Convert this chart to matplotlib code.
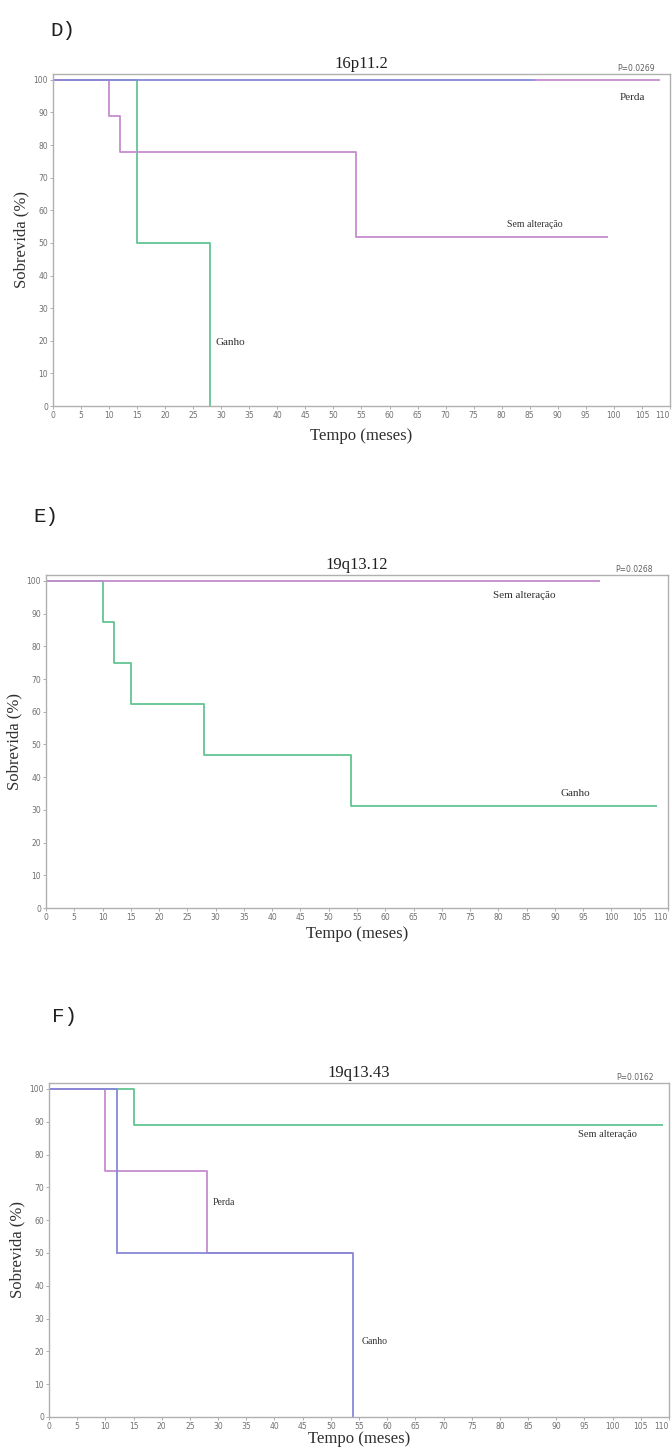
import matplotlib
matplotlib.use("Agg")
import matplotlib.pyplot as plt

# --- Data ---
# D) 16p11.2
d_perda_t = [0, 86, 108]
d_perda_s = [100, 100, 100]
d_sem_t = [0, 10, 12, 54, 99]
d_sem_s = [100, 88.9, 77.8, 51.9, 51.9]
d_ganho_t = [0, 15, 28]
d_ganho_s = [100, 50, 0]

# E) 19q13.12
e_sem_t = [0, 98]
e_sem_s = [100, 100]
e_ganho_t = [0, 10, 12, 15, 28, 54, 108]
e_ganho_s = [100, 87.5, 75, 62.5, 46.9, 31.25, 31.25]

# F) 19q13.43
f_sem_t = [0, 15, 109]
f_sem_s = [100, 88.9, 88.9]
f_perda_t = [0, 10, 28, 54]
f_perda_s = [100, 75, 50, 50]
f_ganho_t = [0, 12, 54]
f_ganho_s = [100, 50, 0]

x_ticks = list(range(0, 111, 5))
y_ticks = list(range(0, 101, 10))

GREEN = "#62c592"
PINK = "#c58ccf"
BLUE = "#8888d8"
SERIF = "Liberation Serif"

W, H = 672, 1452
fig = plt.figure(figsize=(W / 100, H / 100), dpi=100)


def make_axes(left, top, right, bottom, xpad=6):
    ax = fig.add_axes([left / W, 1 - bottom / H, (right - left) / W, (bottom - top) / H])
    ax.set_xlim(0, 110)
    ax.set_ylim(0, 101.8)
    ax.set_xticks(x_ticks)
    ax.set_yticks(y_ticks)
    ax.tick_params(labelsize=5.5, labelcolor="#707070", color="#a0a0a0",
                   length=2, width=0.6, pad=1.5)
    # keep the last tick label inside the picture
    ax.get_xticklabels()[-1].set_ha("right")
    for sp in ax.spines.values():
        sp.set_color("#b0b0b0")
        sp.set_linewidth(1.0)
    ax.set_ylabel("Sobrevida (%)", fontsize=12, family=SERIF, color="#303030", labelpad=3)
    ax.set_xlabel("Tempo (meses)", fontsize=12, family=SERIF, color="#303030", labelpad=xpad)
    return ax


def km(ax, t, s, color, lw=1.3):
    ax.step(t, s, where="post", color=color, linewidth=lw, solid_capstyle="butt")


def label(ax, x, y, text, size=7.5, ha="left"):
    ax.text(x, y, text, fontsize=size, family=SERIF, color="#303030", ha=ha, va="center")


def header(ax, panel, px, py, title, pval):
    fig.text(px / W, 1 - py / H, panel, fontsize=15, family="Liberation Mono",
             color="#202020", ha="left", va="center")
    ax.set_title(title, fontsize=12, family=SERIF, color="#202020", pad=4)
    ax.text(0.945, 1.004, pval, transform=ax.transAxes, fontsize=5.5,
            color="#606060", ha="center", va="bottom")


# --- D) ---
ax = make_axes(53, 74, 670, 406)
km(ax, d_ganho_t, d_ganho_s, GREEN)
km(ax, d_sem_t, d_sem_s, PINK)
ax.plot(d_perda_t[:2], d_perda_s[:2], color=BLUE, linewidth=1.3)
ax.plot(d_perda_t[1:], d_perda_s[1:], color=PINK, linewidth=1.3)
label(ax, 101, 94.5, "Perda", size=8)
label(ax, 81, 55.5, "Sem alteração", size=7)
label(ax, 29, 19.5, "Ganho", size=8)
header(ax, "D)", 50, 31, "16p11.2", "P=0.0269")

# --- E) ---
ax = make_axes(46, 575, 668, 908, xpad=3)
km(ax, e_ganho_t, e_ganho_s, GREEN)
km(ax, e_sem_t, e_sem_s, PINK)
label(ax, 79, 95.5, "Sem alteração", size=8)
label(ax, 91, 35, "Ganho", size=8)
header(ax, "E)", 33, 517, "19q13.12", "P=0.0268")

# --- F) ---
ax = make_axes(49, 1083, 669, 1417, xpad=0)
km(ax, f_sem_t, f_sem_s, GREEN)
km(ax, f_perda_t, f_perda_s, PINK)
km(ax, f_ganho_t[:2], f_ganho_s[:2], BLUE)
ax.step(f_ganho_t[1:], f_ganho_s[1:], where="post", color=BLUE, linewidth=1.3)
label(ax, 99, 86, "Sem alteração", size=7.5, ha="center")
label(ax, 29, 65.5, "Perda", size=7)
label(ax, 55.5, 23, "Ganho", size=7)
header(ax, "F)", 52, 1017, "19q13.43", "P=0.0162")

fig.savefig("out.png", dpi=100, facecolor="white")
